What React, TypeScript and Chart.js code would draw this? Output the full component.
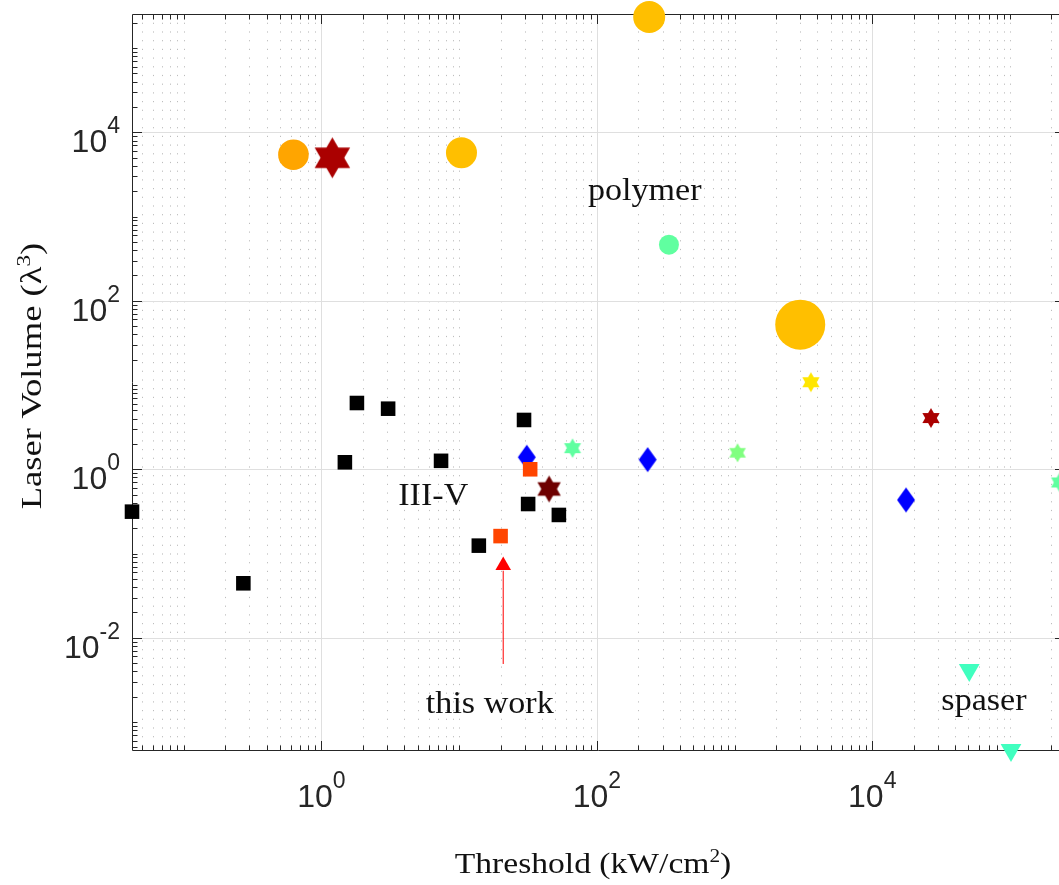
import React, { useEffect, useRef } from 'react';
import { Chart, registerables } from 'chart.js';

Chart.register(...registerables);

// ---- axis limits and tick labels ----
const X_MIN = 0.0421;
const X_MAX = 2.47e5;
const Y_MIN = 4.65e-4;
const Y_MAX = 2.54e5;
const X_LABEL_EXPS = [0, 2, 4];
const Y_LABEL_EXPS = [-2, 0, 2, 4];

// ---- data (Threshold kW/cm^2, Laser volume lambda^3) ----
const iiivX = [0.0421, 0.271, 1.48, 1.81, 3.05, 7.39, 13.9, 29.6, 31.7, 53.0];
const iiivY = [0.314, 0.0443, 1.21, 6.12, 5.24, 1.26, 0.124, 3.85, 0.387, 0.287];
const redSquareX = [32.8, 20.0];
const redSquareY = [1.0, 0.161];
const thisWorkX = [20.9];
const thisWorkY = [0.072];
const arrowX = [20.9, 20.9];
const arrowY = [0.00488, 0.0625];
const diamondX = [31.0, 234, 17600];
const diamondY = [1.39, 1.3, 0.432];
const hexBigRedX = [1.2];
const hexBigRedY = [4990];
const hexBrownX = [45.0];
const hexBrownY = [0.584];
const hexGreenX = [66.6, 2.29e5];
const hexGreenY = [1.78, 0.697];
const hexLightGreenX = [1052];
const hexLightGreenY = [1.57];
const hexYellowX = [3585];
const hexYellowY = [10.8];
const hexRedX = [26700];
const hexRedY = [4.06];
const circOrangeX = [0.626];
const circOrangeY = [5430];
const circAmberX = [10.4, 240, 3000];
const circAmberY = [5725, 2.34e5, 52.1];
const circGreenX = [334];
const circGreenY = [464];
const spaserX = [50660, 101800];
const spaserY = [0.00414, 4.65e-4];

const annoText = ['polymer', 'III-V', 'this work', 'spaser'];
const annoX = [223, 6.49, 16.7, 64800];
const annoY = [1574, 0.377, 0.00128, 0.00139];

const pts = (xs: number[], ys: number[]) => xs.map((v, i) => ({ x: v, y: ys[i] }));

function makeHexagram(R: number, color: string): HTMLCanvasElement {
  const c = document.createElement('canvas');
  const s = Math.ceil(2 * R + 2);
  c.width = s;
  c.height = s;
  const g = c.getContext('2d')!;
  const cx = s / 2, cy = s / 2;
  g.fillStyle = color;
  for (const off of [-90, 90]) {
    g.beginPath();
    for (let i = 0; i < 3; i++) {
      const a = ((off + i * 120) * Math.PI) / 180;
      const px = cx + R * Math.cos(a);
      const py = cy + R * Math.sin(a);
      if (i === 0) g.moveTo(px, py);
      else g.lineTo(px, py);
    }
    g.closePath();
    g.fill();
  }
  return c;
}

function makeDiamond(hw: number, hh: number, color: string): HTMLCanvasElement {
  const c = document.createElement('canvas');
  c.width = Math.ceil(2 * hw + 2);
  c.height = Math.ceil(2 * hh + 2);
  const g = c.getContext('2d')!;
  const cx = c.width / 2, cy = c.height / 2;
  g.fillStyle = color;
  g.beginPath();
  g.moveTo(cx, cy - hh);
  g.lineTo(cx + hw, cy);
  g.lineTo(cx, cy + hh);
  g.lineTo(cx - hw, cy);
  g.closePath();
  g.fill();
  return c;
}

const SERIF = '"Liberation Serif", "Times New Roman", serif';
const SANS = '"Liberation Sans", Arial, Helvetica, sans-serif';

type Seg = { t: string; sup?: boolean };

function drawRich(ctx: CanvasRenderingContext2D, segs: Seg[], cx: number, base: number, size: number, sx: number) {
  const main = `${size}px ${SERIF}`;
  const sup = `${Math.round(size * 0.62)}px ${SERIF}`;
  let total = 0;
  const widths = segs.map((s) => {
    ctx.font = s.sup ? sup : main;
    const w = ctx.measureText(s.t).width;
    total += w;
    return w;
  });
  ctx.save();
  ctx.translate(cx, base);
  ctx.scale(sx, 1);
  let xx = -total / 2;
  ctx.textBaseline = 'alphabetic';
  ctx.textAlign = 'left';
  segs.forEach((s, i) => {
    ctx.font = s.sup ? sup : main;
    ctx.fillText(s.t, xx, s.sup ? -size * 0.36 : 0);
    xx += widths[i];
  });
  ctx.restore();
}

function logTicks(min: number, max: number) {
  const out: { v: number; k: number; n: number }[] = [];
  for (let n = Math.floor(Math.log10(min)); n <= Math.ceil(Math.log10(max)); n++) {
    for (let k = 1; k <= 9; k++) {
      const v = k * Math.pow(10, n);
      if (v >= min * 1.0001 && v <= max * 0.9999) out.push({ v, k, n });
    }
  }
  return out;
}

const decorPlugin = {
  id: 'decor',
  beforeDatasetsDraw(chart: any) {
    const { ctx, chartArea: a, scales } = chart;
    const xs = scales.x, ys = scales.y;
    const L = a.left, R = a.right, T = a.top, B = a.bottom;
    ctx.save();
    ctx.lineWidth = 1;
    const xt = logTicks(X_MIN, X_MAX);
    const yt = logTicks(Y_MIN, Y_MAX);
    for (const t of xt) {
      const px = Math.round(xs.getPixelForValue(t.v)) + 0.5;
      const major = t.k === 1 && X_LABEL_EXPS.includes(t.n);
      ctx.beginPath();
      if (major) {
        ctx.setLineDash([]);
        ctx.strokeStyle = '#DFDFDF';
      } else {
        ctx.setLineDash([1.2, 7.5]);
        ctx.strokeStyle = '#BDBDBD';
      }
      ctx.moveTo(px, T);
      ctx.lineTo(px, B);
      ctx.stroke();
    }
    ctx.setLineDash([]);
    ctx.strokeStyle = '#DFDFDF';
    for (const t of yt) {
      if (!(t.k === 1 && Y_LABEL_EXPS.includes(t.n))) continue;
      const py = Math.round(ys.getPixelForValue(t.v)) + 0.5;
      ctx.beginPath();
      ctx.moveTo(L, py);
      ctx.lineTo(R, py);
      ctx.stroke();
    }
    ctx.strokeStyle = '#262626';
    ctx.beginPath();
    ctx.moveTo(L + 0.5, T + 0.5);
    ctx.lineTo(L + 0.5, B + 0.5);
    ctx.lineTo(R + 0.5, B + 0.5);
    ctx.lineTo(R + 0.5, T + 0.5);
    ctx.closePath();
    ctx.stroke();
    ctx.beginPath();
    for (const t of xt) {
      const px = Math.round(xs.getPixelForValue(t.v)) + 0.5;
      const len = t.k === 1 && X_LABEL_EXPS.includes(t.n) ? 9.5 : 5;
      ctx.moveTo(px, B + 0.5);
      ctx.lineTo(px, B + 0.5 - len);
      ctx.moveTo(px, T + 0.5);
      ctx.lineTo(px, T + 0.5 + len);
    }
    for (const t of yt) {
      const py = Math.round(ys.getPixelForValue(t.v)) + 0.5;
      const len = t.k === 1 && Y_LABEL_EXPS.includes(t.n) ? 9.5 : 5;
      ctx.moveTo(L + 0.5, py);
      ctx.lineTo(L + 0.5 + len, py);
      ctx.moveTo(R + 0.5, py);
      ctx.lineTo(R + 0.5 - len, py);
    }
    ctx.stroke();
    ctx.fillStyle = '#262626';
    ctx.textBaseline = 'alphabetic';
    ctx.textAlign = 'left';
    const baseFont = `32px ${SANS}`;
    const expFont = `23px ${SANS}`;
    for (const e of X_LABEL_EXPS) {
      const px = xs.getPixelForValue(Math.pow(10, e));
      ctx.font = baseFont;
      const w1 = ctx.measureText('10').width;
      ctx.font = expFont;
      const es = String(e);
      const w2 = ctx.measureText(es).width;
      const sx = px - (w1 + w2) / 2;
      ctx.font = baseFont;
      ctx.fillText('10', sx, B + 57);
      ctx.font = expFont;
      ctx.fillText(es, sx + w1, B + 38);
    }
    for (const e of Y_LABEL_EXPS) {
      const py = ys.getPixelForValue(Math.pow(10, e));
      ctx.font = baseFont;
      const w1 = ctx.measureText('10').width;
      ctx.font = expFont;
      const es = String(e);
      const w2 = ctx.measureText(es).width;
      const sx = L - 12 - (w1 + w2);
      ctx.font = baseFont;
      ctx.fillText('10', sx, py + 20);
      ctx.font = expFont;
      ctx.fillText(es, sx + w1, py + 1);
    }
    ctx.fillStyle = '#111111';
    drawRich(ctx, [{ t: 'Threshold (kW/cm' }, { t: '2', sup: true }, { t: ')' }], 593, 873, 30, 1.12);
    ctx.save();
    ctx.translate(41, 376);
    ctx.rotate(-Math.PI / 2);
    drawRich(ctx, [{ t: 'Laser Volume (λ' }, { t: '3', sup: true }, { t: ')' }], 0, 0, 30, 1.22);
    ctx.restore();
    ctx.restore();
  },
  afterDatasetsDraw(chart: any) {
    const { ctx, scales } = chart;
    ctx.save();
    ctx.fillStyle = '#111111';
    annoText.forEach((t, i) => {
      const px = scales.x.getPixelForValue(annoX[i]);
      const py = scales.y.getPixelForValue(annoY[i]);
      drawRich(ctx, [{ t }], px, py, 31, 1.1);
    });
    ctx.restore();
  },
};

export default function App() {
  const ref = useRef<HTMLCanvasElement>(null);
  useEffect(() => {
    if (!ref.current) return;
    const hexBigRed = makeHexagram(20.5, '#AA0000');
    const hexBrown = makeHexagram(13.5, '#6E0000');
    const hexGreen = makeHexagram(9.8, '#60FFA0');
    const hexLightGreen = makeHexagram(9.6, '#80FF80');
    const hexYellow = makeHexagram(10, '#FFE600');
    const hexRed = makeHexagram(10, '#AA0000');
    const diamond = makeDiamond(9, 12.5, '#0000FF');
    const common = { borderWidth: 0, clip: false as any };
    const chart = new Chart(ref.current, {
      type: 'scatter',
      data: {
        datasets: [
          { label: 'this work', data: pts(thisWorkX, thisWorkY), pointStyle: 'triangle', pointRadius: 9, backgroundColor: '#FF0000', order: 1, ...common },
          { label: 'arrow', data: pts(arrowX, arrowY), showLine: true, pointRadius: 0, borderColor: '#FF0000', borderWidth: 1, clip: false as any, order: 2 },
          { label: 'spaser', data: pts(spaserX, spaserY), pointStyle: 'triangle', rotation: 180, pointRadius: 12, backgroundColor: '#40FFBF', order: 3, ...common },
          { label: 'circ orange', data: pts(circOrangeX, circOrangeY), pointStyle: 'circle', pointRadius: 15.3, backgroundColor: '#FFA500', order: 4, ...common },
          { label: 'circ amber', data: pts(circAmberX, circAmberY), pointStyle: 'circle', pointRadius: [15.5, 16, 25] as any, backgroundColor: '#FFBF00', order: 5, ...common },
          { label: 'circ green', data: pts(circGreenX, circGreenY), pointStyle: 'circle', pointRadius: 10, backgroundColor: '#60FFA0', order: 6, ...common },
          { label: 'hex big red', data: pts(hexBigRedX, hexBigRedY), pointStyle: hexBigRed as any, pointRadius: 20, order: 7, ...common },
          { label: 'hex brown', data: pts(hexBrownX, hexBrownY), pointStyle: hexBrown as any, pointRadius: 13, order: 8, ...common },
          { label: 'hex green', data: pts(hexGreenX, hexGreenY), pointStyle: hexGreen as any, pointRadius: 10, order: 9, ...common },
          { label: 'hex light green', data: pts(hexLightGreenX, hexLightGreenY), pointStyle: hexLightGreen as any, pointRadius: 10, order: 10, ...common },
          { label: 'hex yellow', data: pts(hexYellowX, hexYellowY), pointStyle: hexYellow as any, pointRadius: 10, order: 11, ...common },
          { label: 'hex red', data: pts(hexRedX, hexRedY), pointStyle: hexRed as any, pointRadius: 10, order: 12, ...common },
          { label: 'red squares', data: pts(redSquareX, redSquareY), pointStyle: 'rect', pointRadius: 10.3, backgroundColor: '#FF4500', order: 13, ...common },
          { label: 'diamonds', data: pts(diamondX, diamondY), pointStyle: diamond as any, pointRadius: 10, order: 14, ...common },
          { label: 'III-V', data: pts(iiivX, iiivY), pointStyle: 'rect', pointRadius: 10.3, backgroundColor: '#000000', order: 15, ...common },
        ] as any,
      },
      options: {
        responsive: false,
        animation: false,
        devicePixelRatio: 1,
        layout: { autoPadding: false, padding: { left: 132, top: 14, right: 0, bottom: 135 } },
        plugins: { legend: { display: false }, tooltip: { enabled: false } },
        events: [],
        scales: {
          x: { type: 'logarithmic', min: X_MIN, max: X_MAX, display: false, bounds: 'data' },
          y: { type: 'logarithmic', min: Y_MIN, max: Y_MAX, display: false, bounds: 'data' },
        },
      } as any,
      plugins: [decorPlugin],
    });
    return () => chart.destroy();
  }, []);
  return (
    <div style={{ position: 'fixed', left: 0, top: 0, width: 1059, height: 885, overflow: 'hidden', background: '#fff' }}>
      <canvas ref={ref} width={1064} height={885} style={{ display: 'block' }} />
    </div>
  );
}
